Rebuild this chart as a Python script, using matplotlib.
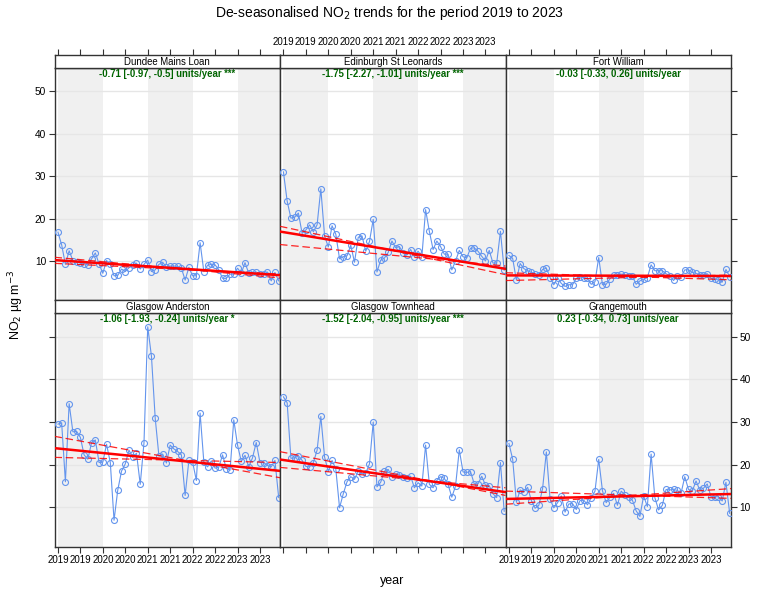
import numpy as np
import pandas as pd
import matplotlib
matplotlib.use("Agg")
import matplotlib.pyplot as plt

plt.rcParams["font.family"] = ["Liberation Sans", "DejaVu Sans"]

# monthly de-seasonalised NO2, Jan 2019 .. Dec 2023
sites = ["Dundee Mains Loan", "Edinburgh St Leonards", "Fort William",
         "Glasgow Anderston", "Glasgow Townhead", "Grangemouth"]

dundee = [16.8, 13.8, 9.2, 12.4, 10.1, 9.8, 9.6, 9.4, 9.0, 10.5, 11.9, 9.3,
          7.1, 10.1, 9.2, 6.5, 6.6, 8.1, 7.5, 8.4, 9.0, 9.5, 8.1, 9.2,
          10.2, 7.5, 7.9, 9.2, 9.7, 8.5, 8.8, 8.8, 8.7, 8.3, 5.5, 8.5,
          6.5, 6.5, 14.3, 7.5, 9.0, 9.2, 9.1, 7.9, 5.9, 5.9, 6.9, 6.9,
          8.3, 7.1, 9.6, 7.1, 7.3, 7.4, 6.9, 6.9, 7.4, 5.3, 7.3, 5.3]
edinburgh = [31.0, 24.1, 20.1, 20.3, 21.3, 16.5, 17.3, 18.5, 16.9, 18.5, 27.0, 15.9,
             13.3, 18.3, 16.3, 10.5, 11.0, 11.2, 13.7, 9.7, 15.6, 15.9, 12.3, 14.6,
             19.8, 7.4, 10.2, 10.7, 12.0, 14.7, 13.1, 13.4, 11.8, 11.4, 12.7, 11.0,
             12.3, 11.0, 22.1, 17.0, 12.7, 14.7, 13.4, 11.6, 11.6, 7.9, 10.0, 12.5,
             11.0, 10.7, 13.0, 13.1, 12.3, 11.1, 10.0, 12.5, 9.5, 9.5, 17.0, 7.8]
fort_william = [11.3, 10.6, 5.5, 9.4, 8.2, 7.7, 7.3, 7.0, 6.7, 8.0, 8.3, 6.1,
                4.4, 6.1, 4.7, 4.0, 4.4, 4.4, 5.9, 6.2, 6.1, 5.9, 4.5, 5.1,
                10.8, 4.4, 4.5, 5.8, 6.6, 6.7, 6.9, 6.7, 6.5, 6.4, 4.5, 5.3,
                5.7, 6.1, 9.1, 7.7, 7.7, 7.7, 7.0, 6.5, 5.4, 6.5, 6.2, 7.9,
                7.9, 7.3, 7.1, 6.7, 6.7, 7.0, 5.9, 5.8, 5.5, 5.0, 8.0, 6.3]
anderston = [29.5, 29.8, 16.0, 34.3, 27.7, 27.8, 26.4, 22.3, 21.3, 25.2, 25.8, 20.5,
             20.6, 24.8, 20.5, 7.0, 14.1, 18.5, 20.2, 23.4, 21.7, 22.7, 15.4, 25.1,
             52.3, 45.4, 30.9, 22.0, 22.5, 20.4, 24.6, 23.7, 23.1, 22.3, 12.8, 21.0,
             20.6, 16.3, 32.1, 20.6, 19.5, 20.9, 19.2, 19.4, 22.3, 19.1, 18.7, 30.5,
             24.6, 20.8, 22.2, 19.5, 21.6, 25.2, 20.5, 20.5, 19.8, 19.5, 21.0, 12.3]
townhead = [35.9, 34.5, 21.5, 21.6, 22.1, 21.0, 19.6, 19.5, 20.5, 23.4, 31.3, 21.8,
            18.4, 21.0, 19.0, 9.9, 13.2, 16.0, 17.2, 16.6, 18.5, 17.9, 18.0, 20.2,
            30.0, 14.8, 15.9, 18.5, 18.9, 17.1, 17.8, 17.7, 17.1, 17.0, 17.3, 14.6,
            15.8, 15.0, 24.6, 15.4, 14.6, 16.3, 17.2, 16.8, 15.4, 12.4, 15.0, 23.5,
            18.3, 18.2, 18.4, 15.5, 15.5, 17.3, 15.2, 15.1, 13.2, 12.3, 20.5, 9.1]
grangemouth = [25.0, 21.3, 11.2, 14.1, 13.6, 14.7, 11.6, 9.8, 10.5, 14.4, 23.0, 11.9,
               9.9, 11.1, 12.7, 8.9, 10.8, 10.9, 9.5, 11.6, 11.7, 10.6, 12.3, 13.8,
               21.25, 13.9, 11.1, 12.4, 13.3, 10.5, 13.8, 13.0, 12.4, 11.7, 9.2, 7.9,
               12.7, 10.2, 22.5, 12.3, 9.4, 10.5, 14.2, 14.1, 14.2, 14.0, 13.3, 17.2,
               14.2, 13.8, 16.2, 14.1, 14.5, 15.5, 12.5, 12.5, 12.5, 11.5, 15.9, 8.6]
series = [dundee, edinburgh, fort_william, anderston, townhead, grangemouth]

# Theil-Sen slope (units/year) with 95% CI and significance
slope = [-0.71, -1.75, -0.03, -1.06, -1.52, 0.23]
slope_lo = [-0.97, -2.27, -0.33, -1.93, -2.04, -0.34]
slope_hi = [-0.5, -1.01, 0.26, -0.24, -0.95, 0.73]
stars = ["***", "***", "", "*", "***", ""]
# line values at the start of 2019
icpt = [10.15, 16.8, 6.6, 23.8, 21.1, 12.0]
icpt_lo = [10.8, 18.0, 7.2, 26.5, 22.9, 13.8]
icpt_hi = [9.4, 13.8, 5.4, 21.7, 19.3, 10.8]

months = pd.date_range("2019-01-01", periods=60, freq="MS")
t = (months.year + (months.month - 1) / 12.0).values

xlim = (2018.924, 2023.946)
ylim = (0.8, 55.6)
xticks = np.arange(2019, 2024, 0.5)
xticklabels = [str(int(v)) for v in xticks]
yticks = [10, 20, 30, 40, 50]
shaded_years = [2019, 2021, 2023]

fig = plt.figure(figsize=(7.7, 6), dpi=100)
W, H = 770.0, 600.0
lefts = [54.5, 280.0, 505.5]
pw = 225.5
rows = [(55.0, 67.5, 300.0), (300.0, 312.7, 546.7)]  # strip top, panel top, panel bottom
frame = "#333333"

for k in range(6):
    r, c = divmod(k, 3)
    st, pt, pb = rows[r]
    x0 = lefts[c] / W
    ax = fig.add_axes([x0, 1 - pb / H, pw / W, (pb - pt) / H])
    sax = fig.add_axes([x0, 1 - pt / H, pw / W, (pt - st) / H])

    ax.set_xlim(*xlim)
    ax.set_ylim(*ylim)
    for yr in shaded_years:
        ax.axvspan(max(yr, xlim[0]), min(yr + 1, xlim[1]),
                   color="#f0f0f0", lw=0, zorder=0)
    for yv in yticks:
        ax.axhline(yv, color="#e6e6e6", lw=1, zorder=1)

    ax.plot(t, series[k], color="#6495ED", lw=0.8, marker="o", ms=4.3,
            mfc="none", mec="#6495ED", mew=0.8, zorder=3)
    xl = np.array(xlim)
    ax.plot(xl, icpt[k] + slope[k] * (xl - 2019), color="red", lw=1.8, zorder=4)
    for a, b in ((icpt_lo[k], slope_lo[k]), (icpt_hi[k], slope_hi[k])):
        ax.plot(xl, a + b * (xl - 2019), color="red", lw=0.9, ls=(0, (6, 3)),
                alpha=0.85, zorder=4)

    lab = f"{slope[k]:.2f} [{slope_lo[k]:.2f}, {slope_hi[k]:.2f}] units/year".replace("-0.50", "-0.5")
    if stars[k]:
        lab += " " + stars[k]
    ax.text(0.5, 0.995, lab, transform=ax.transAxes, ha="center", va="top",
            color="#006400", fontsize=6.9, fontweight="bold", zorder=5)

    # strip
    sax.set_xlim(*xlim)
    sax.set_ylim(0, 1)
    sax.set_yticks([])
    sax.text(0.5, 0.45, sites[k], transform=sax.transAxes, ha="center",
             va="center", fontsize=6.9, color="black")
    for s in sax.spines.values():
        s.set_color(frame)
        s.set_linewidth(1)

    for s in ax.spines.values():
        s.set_color(frame)
        s.set_linewidth(1)

    # x ticks: top row above strip, bottom row below panel
    ax.set_xticks(xticks)
    sax.set_xticks(xticks)
    if r == 0:
        ax.tick_params(axis="x", bottom=False, labelbottom=False)
        sax.tick_params(axis="x", bottom=False, labelbottom=False, top=True,
                        labeltop=(c == 1), direction="out", length=4,
                        labelsize=7, pad=1.5, color=frame)
        sax.set_xticklabels(xticklabels)
    else:
        sax.tick_params(axis="x", bottom=False, labelbottom=False)
        ax.tick_params(axis="x", bottom=True, labelbottom=(c != 1),
                       direction="out", length=4, labelsize=7, pad=2, color=frame)
        ax.set_xticklabels(xticklabels)

    # y ticks: left column / right column
    ax.set_yticks(yticks)
    if c == 0:
        ax.tick_params(axis="y", left=True, labelleft=(r == 0), right=False,
                       direction="out", length=4, labelsize=7.3, pad=2, color=frame)
    elif c == 2:
        ax.tick_params(axis="y", left=False, labelleft=False, right=True,
                       labelright=(r == 1), direction="out", length=4,
                       labelsize=7.3, pad=2, color=frame)
    else:
        ax.tick_params(axis="y", left=False, labelleft=False)

fig.text(390 / W, 1 - 13 / H, "De-seasonalised NO$_2$ trends for the period 2019 to 2023",
         ha="center", va="center", fontsize=10)
fig.text(392 / W, 1 - 581 / H, "year", ha="center", va="center", fontsize=9)
fig.text(16 / W, 1 - 305 / H, "NO$_2$ µg m$^{-3}$", ha="center", va="center",
         rotation=90, fontsize=9)

fig.savefig("out.png", dpi=100)
